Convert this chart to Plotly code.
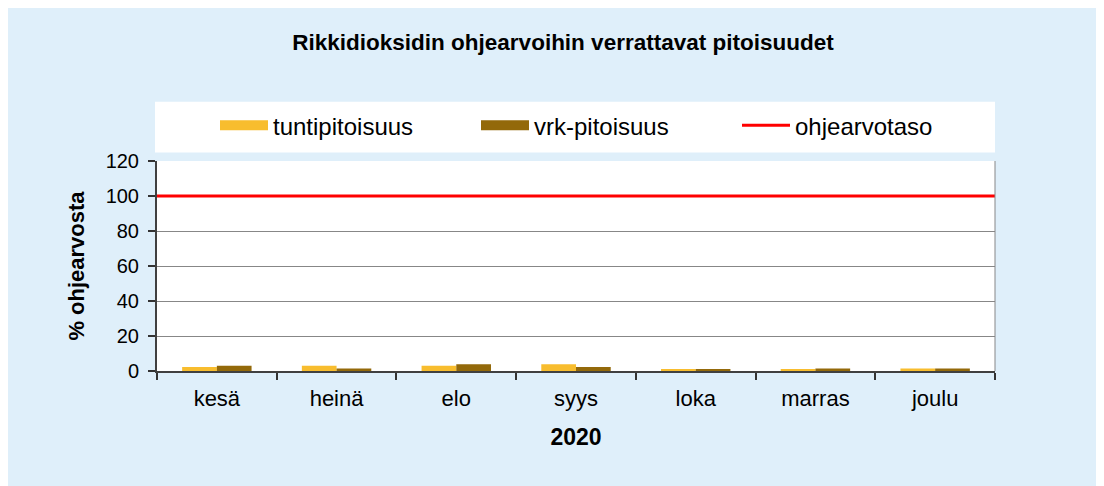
import plotly.graph_objects as go

months = ["kesä", "heinä", "elo", "syys", "loka", "marras", "joulu"]
tunti = [2.3, 3.0, 3.0, 3.8, 1.0, 1.0, 1.5]
vrk = [3.0, 1.5, 3.8, 2.3, 1.0, 1.5, 1.5]
guide_level = 100
y_ticks = [0, 20, 40, 60, 80, 100, 120]

FONT = "Liberation Sans, Arial, sans-serif"
C_TUNTI = "#F8BD2E"
C_VRK = "#93690A"
C_RED = "#FF0000"

fig = go.Figure()
fig.add_trace(go.Bar(x=months, y=tunti, name="tuntipitoisuus", showlegend=False,
                     marker=dict(color=C_TUNTI, line=dict(width=0))))
fig.add_trace(go.Bar(x=months, y=vrk, name="vrk-pitoisuus", showlegend=False,
                     marker=dict(color=C_VRK, line=dict(width=0))))
fig.add_trace(go.Scatter(x=[0, 1], y=[guide_level, guide_level], mode="lines",
                         name="ohjearvotaso", xaxis="x2", showlegend=False,
                         line=dict(color=C_RED, width=3)))
# legend entries (wide swatches)
for nm, col, w in [("tuntipitoisuus", C_TUNTI, 13), ("vrk-pitoisuus", C_VRK, 13),
                   ("ohjearvotaso", C_RED, 3)]:
    fig.add_trace(go.Scatter(x=[None], y=[None], mode="lines", name=nm,
                             xaxis="x2", line=dict(color=col, width=w)))

W, H = 1096, 478          # page body adds an 8px offset
L, R, T, B = 149, 987, 152.5, 363.5
PW, PH = R - L, B - T

fig.update_layout(
    width=W, height=H,
    margin=dict(l=L, r=W - R, t=T, b=H - B, pad=0),
    paper_bgcolor="#DFEFFA",
    plot_bgcolor="white",
    barmode="group",
    bargap=0.42,
    bargroupgap=0,
    font=dict(family=FONT, color="#000000", size=20),
    title=dict(text="<b>Rikkidioksidin ohjearvoihin verrattavat pitoisuudet</b>",
               x=555 / W, xanchor="center", y=1 - 34 / H, yanchor="middle",
               font=dict(size=22.5, family=FONT)),
    xaxis=dict(type="category", categoryorder="array", categoryarray=months,
               tickson="boundaries", ticks="outside", ticklen=7, tickwidth=1.5,
               tickcolor="#333333", showline=True, linecolor="#404040", linewidth=2,
               showgrid=False, tickfont=dict(size=22), ticklabelstandoff=7,
               title=dict(text="<b>2020</b>", font=dict(size=23), standoff=18)),
    xaxis2=dict(overlaying="x", range=[0, 1], visible=False, fixedrange=True),
    yaxis=dict(range=[0, 120], tickvals=y_ticks, ticks="outside", ticklen=7,
               tickwidth=1.5, tickcolor="#333333", showline=True, linecolor="#404040",
               linewidth=2, showgrid=True, gridcolor="#878787", gridwidth=1,
               zeroline=False, tickfont=dict(size=20), ticklabelstandoff=5,
               title=dict(text="<b>% ohjearvosta</b>", font=dict(size=22), standoff=15)),
    legend=dict(orientation="h", x=(207 - L) / PW, xanchor="left",
                y=1 + (T - 117) / PH, yanchor="middle", bgcolor="rgba(0,0,0,0)",
                font=dict(size=24), entrywidth=198, entrywidthmode="pixels",
                traceorder="normal", itemwidth=48),
    shapes=[
        dict(type="rect", xref="paper", yref="paper",
             x0=-2 / PW, x1=1, y0=1 + (T - 144) / PH, y1=1 + (T - 93) / PH,
             fillcolor="white", line=dict(width=0), layer="below"),
        dict(type="line", xref="paper", yref="paper", x0=1, x1=1, y0=0, y1=1,
             line=dict(color="#878787", width=1)),
    ],
)

fig.write_html("out.html")
